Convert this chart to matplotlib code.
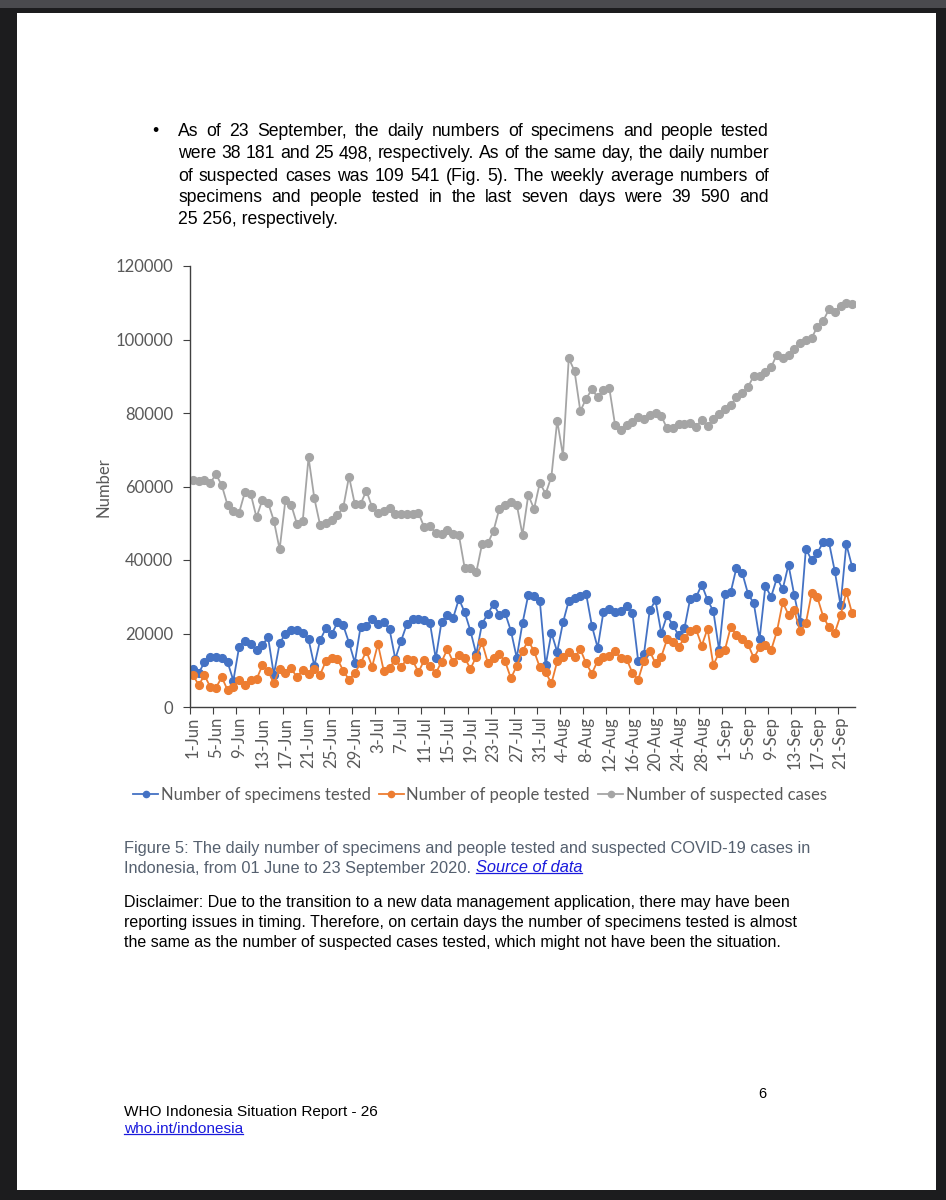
import matplotlib
matplotlib.use('Agg')
import matplotlib.pyplot as plt
import numpy as np
import pandas as pd
from matplotlib.patches import Rectangle
from matplotlib.lines import Line2D

# DATA (1 Jun - 23 Sep 2020)

days = pd.date_range('2020-06-01', '2020-09-23', freq='D')
tick_labels = [f"{d.day}-{d.strftime('%b')}" for d in days[::4]]

specimens = [10300, 9200, 12200, 13500, 13500, 13300, 12200, 7200, 16400, 18000,
             17100, 15500, 16800, 19000, 8800, 17300, 20000, 21000, 21000, 20200,
             18400, 11200, 18200, 21400, 19800, 23000, 22200, 17500, 12100, 21800,
             22000, 23900, 22500, 23100, 21200, 13100, 18000, 22500, 24000, 23900,
             23700, 22800, 13200, 23200, 25100, 24200, 29400, 25800, 20700, 14400,
             22600, 25400, 28000, 25100, 25500, 20700, 13400, 22800, 30500, 30300,
             28800, 11300, 20200, 15000, 23000, 28900, 29600, 30300, 30800, 22100,
             16100, 25900, 26600, 25900, 26200, 27500, 25700, 12600, 14400, 26300,
             29000, 20100, 24900, 22300, 19500, 21400, 29500, 29800, 33300, 29100,
             26100, 15500, 30800, 31200, 37900, 36500, 30800, 28200, 18500, 32900,
             30000, 35100, 32100, 38700, 30400, 23000, 43000, 40000, 42000, 44800,
             44800, 37000, 27700, 44300, 38181]

people = [8700, 6000, 8600, 5500, 5300, 8100, 4600, 5500, 7400, 5900,
          7400, 7500, 11300, 9900, 6400, 10400, 9200, 10500, 8100, 10100,
          9000, 10300, 8800, 12500, 13400, 13000, 9900, 7400, 9300, 11900,
          15200, 11000, 17100, 9900, 10700, 12800, 10900, 13000, 12700, 9500,
          12700, 11200, 9200, 12300, 15700, 12300, 14200, 13400, 10400, 13700,
          17600, 12100, 13400, 14400, 12400, 7800, 11200, 15300, 18000, 15200,
          10800, 9500, 6400, 12400, 13600, 15000, 13500, 15700, 11900, 9100,
          12600, 13700, 13900, 15200, 13200, 13100, 9300, 7400, 12600, 15200,
          11900, 13700, 18400, 17700, 16400, 18700, 20700, 21200, 16700, 21300,
          11400, 14800, 15500, 21700, 19600, 18400, 17100, 13300, 16200, 16800,
          15500, 20600, 28500, 25100, 26300, 20600, 22800, 30900, 29800, 24600,
          21700, 20200, 24900, 31300, 25498]

suspected = [61800, 61500, 61800, 61000, 63300, 60300, 54900, 53200, 52900, 58500,
             58000, 51600, 56300, 55600, 50700, 42900, 56300, 55000, 49800, 50700,
             67900, 56800, 49500, 50000, 50900, 52200, 54300, 62700, 55200, 55200,
             58900, 54300, 52700, 53400, 54100, 52500, 52500, 52500, 52500, 52900,
             48900, 49300, 47250, 47100, 48200, 47100, 46800, 37800, 37800, 36600,
             44300, 44500, 48000, 54000, 55000, 55900, 55100, 46900, 57700, 53900,
             61000, 58000, 62700, 77900, 68400, 94900, 91400, 80500, 83900, 86400,
             84300, 86300, 86900, 76800, 75500, 76700, 77500, 79000, 78500, 79500,
             79900, 79200, 75800, 75800, 77000, 76900, 77400, 76300, 78100, 76500,
             78300, 79700, 81000, 82100, 84300, 85400, 87100, 90100, 90200, 91200,
             92500, 95900, 95000, 95700, 97400, 99100, 99900, 100400, 103500, 105100,
             108200, 107600, 109100, 110000, 109541]

series_names = ['Number of specimens tested', 'Number of people tested',
                'Number of suspected cases']
series_colors = ['#4472C4', '#ED7D31', '#A5A5A5']

paragraph = ["As of 23 September, the daily numbers of specimens and people tested",
             "were 38 181 and 25 498, respectively. As of the same day, the daily number",
             "of suspected cases was 109 541 (Fig. 5). The weekly average numbers of",
             "specimens and people tested in the last seven days were 39 590 and",
             "25 256, respectively."]
caption = ["Figure 5: The daily number of specimens and people tested and suspected COVID-19 cases in",
           "Indonesia, from 01 June to 23 September 2020. "]
disclaimer = ["Disclaimer: Due to the transition to a new data management application, there may have been",
              "reporting issues in timing. Therefore, on certain days the number of specimens tested is almost",
              "the same as the number of suspected cases tested, which might not have been the situation."]

# PAGE

W, H = 946, 1200
fig = plt.figure(figsize=(W / 100, H / 100), dpi=100)
fig.patch.set_facecolor('#1c1c1e')
renderer = fig.canvas.get_renderer()

def px(x, y):
    return x / W, 1 - y / H

fig.add_artist(Rectangle((0, 1 - 8 / H), 1, 8 / H, transform=fig.transFigure,
                         facecolor='#4a4a4e', edgecolor='none', zorder=0))
fig.add_artist(Rectangle(px(17, 1190), (936 - 17) / W, (1190 - 13) / H,
                         transform=fig.transFigure, facecolor='white',
                         edgecolor='none', zorder=0))

BODY = 'Liberation Sans'
CHART = 'Lato'

def text_width(s, size, **kw):
    t = fig.text(0, 0, s, size=size, **kw)
    w = t.get_window_extent(renderer).width
    t.remove()
    return w

def fit_size(s, width, **kw):
    return 10 * width / text_width(s, 10, **kw)

def underline(t, color):
    bb = t.get_window_extent(renderer)
    fig.add_artist(Line2D([bb.x0 / W, bb.x1 / W], [(bb.y0 + 2.5) / H] * 2,
                          transform=fig.transFigure, color=color, lw=0.9))

# paragraph, justified between x=178 and x=769
p_size = fit_size(paragraph[1], 769 - 178, family=BODY)
fig.text(*px(152, 132), '\u2022', size=p_size, family=BODY, va='center')
for k, line in enumerate(paragraph):
    y = 132 + 22 * k
    words = line.split(' ')
    if k == len(paragraph) - 1:
        fig.text(*px(178, y), line, size=p_size, family=BODY, va='center')
        continue
    widths = [text_width(w, p_size, family=BODY) for w in words]
    gap = (769 - 178 - sum(widths)) / (len(words) - 1)
    x = 178
    for w, wd in zip(words, widths):
        fig.text(*px(x, y), w, size=p_size, family=BODY, va='center')
        x += wd + gap

# CHART

x = np.arange(len(days))
ax = fig.add_axes([190 / W, 1 - 707 / H, (855 - 190) / W, (707 - 266) / H])
ax.set_facecolor('none')
for values, name, color in zip([specimens, people, suspected], series_names, series_colors):
    ax.plot(x, values, color=color, lw=1.3, marker='o', ms=5.6, label=name)

ax.set_xlim(-0.5, len(days) - 0.5)
ax.set_ylim(0, 120000)
ax.set_yticks(np.arange(0, 120001, 20000))
ax.set_yticklabels([str(v) for v in range(0, 120001, 20000)])
ax.set_xticks(np.arange(0, len(days), 4) - 0.5)
ax.set_xticklabels([])
ax.set_xticks(np.arange(0, len(days), 4), minor=True)
ax.set_xticklabels(tick_labels, minor=True, rotation=90)
for side in ['top', 'right']:
    ax.spines[side].set_visible(False)
for side in ['left', 'bottom']:
    ax.spines[side].set_color('#404040')
    ax.spines[side].set_linewidth(1.0)
ax.tick_params(axis='y', direction='out', length=5, color='#404040',
               labelsize=12, labelcolor='#595959', pad=7)
ax.tick_params(axis='x', which='major', direction='out', length=5, color='#404040')
ax.tick_params(axis='x', which='minor', length=0, labelsize=12,
               labelcolor='#595959', pad=7)
for lab in ax.get_yticklabels() + ax.get_xticklabels(minor=True):
    lab.set_family(CHART)

fig.text(*px(103, 487), 'Number', rotation=90, size=12, color='#595959',
         family=CHART, ha='center', va='center')

leg = fig.legend(loc='center', bbox_to_anchor=px(480, 795), ncol=3, frameon=False,
                 handlelength=1.5, handletextpad=0.15, columnspacing=0.5,
                 prop={'family': CHART, 'size': 12}, labelcolor='#595959',
                 markerscale=0.8)

# CAPTION, DISCLAIMER, FOOTER

cap_color = '#55606f'
c_size = fit_size(caption[0], 812 - 124, family=BODY)
fig.text(*px(124, 849), caption[0], size=c_size, family=BODY, color=cap_color, va='center')
t1 = fig.text(*px(124, 868), caption[1], size=c_size, family=BODY, color=cap_color, va='center')
x_end = t1.get_window_extent(renderer).x1
src = fig.text(x_end / W, 1 - 868 / H, 'Source of data', size=c_size, family=BODY,
               style='italic', color='#1a1adc', va='center')
underline(src, '#1a1adc')

d_size = fit_size(disclaimer[1], 799 - 124, family=BODY)
for k, line in enumerate(disclaimer):
    fig.text(*px(124, 902 + 20 * k), line, size=d_size, family=BODY, color='black', va='center')

fig.text(*px(762, 1094), '6', size=10.5, family=BODY, color='black', ha='center', va='center')
f_size = fit_size('WHO Indonesia Situation Report - 26', 378 - 124, family=BODY)
fig.text(*px(124, 1112), 'WHO Indonesia Situation Report - 26', size=f_size,
         family=BODY, color='black', va='center')
link = fig.text(*px(124, 1129), 'who.int/indonesia', size=f_size, family=BODY,
                color='#1a1adc', va='center')
underline(link, '#1a1adc')

fig.savefig('out.png', dpi=100, facecolor=fig.get_facecolor())
